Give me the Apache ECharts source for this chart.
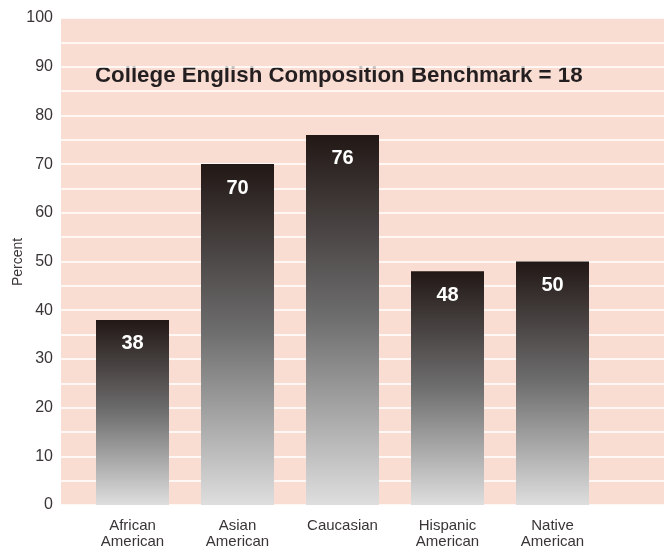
<!DOCTYPE html>
<html><head><meta charset="utf-8">
<script src="https://cdn.jsdelivr.net/npm/echarts@6/dist/echarts.min.js"></script>
<style>html,body{margin:0;padding:0;background:#fff}#c{width:664px;height:549px}</style>
</head><body><div id="c"></div>
<script>
const categories = ['African\nAmerican', 'Asian\nAmerican', 'Caucasian', 'Hispanic\nAmerican', 'Native\nAmerican'];
const percents = [38, 70, 76, 48, 50];
const yTicks = [0, 10, 20, 30, 40, 50, 60, 70, 80, 90, 100];
const titleText = 'College English Composition Benchmark = 18';
const yAxisTitle = 'Percent';

const font = '"Liberation Sans", Arial, Helvetica, sans-serif';
const chart = echarts.init(document.getElementById('c'));
chart.setOption({
  animation: false,
  textStyle: { fontFamily: font },
  grid: [
    { left: 61, right: 0, top: 18, bottom: 44, show: true, backgroundColor: '#FADDD2', borderWidth: 0,
      containLabel: false, outerBoundsMode: 'none' },
    { left: 80, width: 525, top: 18, bottom: 44, containLabel: false, outerBoundsMode: 'none' }
  ],
  graphic: [{
    type: 'text', left: 95, top: 65,
    style: { text: titleText, font: 'bold 22.3px ' + font, fill: '#231f20' }
  }, {
    type: 'text', x: 18, y: 262, rotation: Math.PI / 2,
    style: { text: yAxisTitle, font: '14px ' + font, fill: '#3a3535', align: 'center', verticalAlign: 'middle' }
  }],
  xAxis: [
    { type: 'category', gridIndex: 0, data: ['a'], show: false },
    { type: 'category', gridIndex: 1, data: categories,
      axisLine: { show: false }, axisTick: { show: false },
      axisLabel: { color: '#3a3535', fontSize: 15, lineHeight: 16, margin: 13, fontFamily: font } }
  ],
  yAxis: [
    { type: 'value', gridIndex: 0, min: yTicks[0], max: yTicks[yTicks.length - 1], interval: 10,
      axisLine: { show: false }, axisTick: { show: false },
      axisLabel: { color: '#3a3535', fontSize: 16, margin: 8, fontFamily: font },
      splitLine: { show: true, lineStyle: { color: '#ffffff', width: 1.5 } },
      minorTick: { show: false, splitNumber: 2 },
      minorSplitLine: { show: true, lineStyle: { color: '#ffffff', width: 1.5 } } },
    { type: 'value', gridIndex: 1, min: 0, max: 100, show: false }
  ],
  series: [{
    type: 'bar', xAxisIndex: 1, yAxisIndex: 1, data: percents, barWidth: 73,
    itemStyle: { color: new echarts.graphic.LinearGradient(0, 0, 0, 1, [
      { offset: 0, color: '#221816' }, { offset: 0.5, color: '#6f6f6f' }, { offset: 1, color: '#dedede' }]) },
    label: { show: true, position: 'insideTop', distance: 14, color: '#ffffff',
      fontSize: 20, fontWeight: 'bold', fontFamily: font }
  }]
});
</script></body></html>
